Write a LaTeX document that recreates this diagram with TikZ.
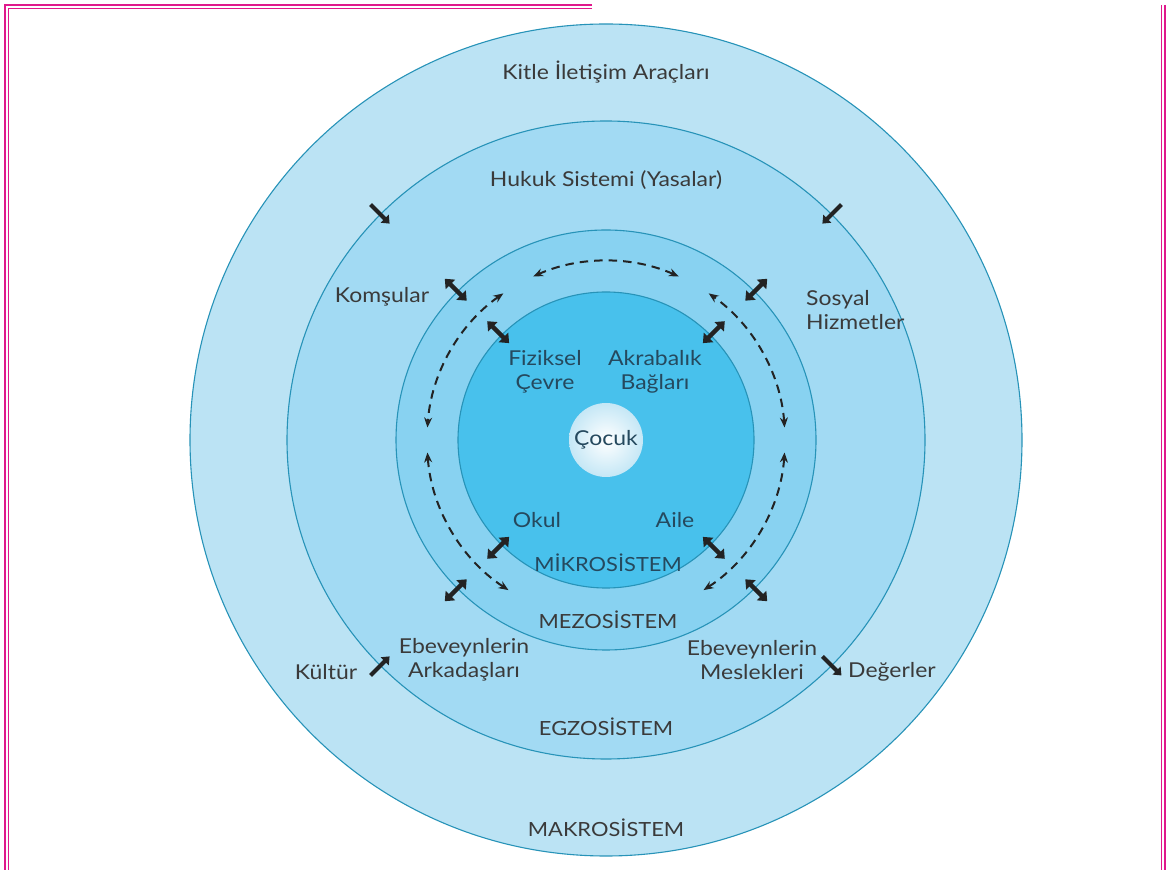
\documentclass[tikz,border=0pt]{standalone}
\usepackage{fontspec}
\setmainfont{Lato}[FakeStretch=1.12]
\usetikzlibrary{arrows.meta,calc}
\definecolor{ringA}{HTML}{BBE3F4}
\definecolor{ringB}{HTML}{A2DAF3}
\definecolor{ringC}{HTML}{88D2F1}
\definecolor{ringD}{HTML}{48C1EC}
\definecolor{edgec}{HTML}{2793B8}
\definecolor{magen}{HTML}{E0188C}
\definecolor{txtA}{HTML}{3A3A3A}
\definecolor{txtB}{HTML}{25495E}
\definecolor{arrc}{HTML}{232323}
\tikzset{
  lbl/.style={text=txtA, font=\fontsize{20.5}{24}\selectfont, align=center, inner sep=0pt},
  lblin/.style={lbl, text=txtB},
  caplbl/.style={lbl, font=\fontsize{19.5}{24}\selectfont},
  boldarr/.style={draw=arrc, line width=4.5pt, {Triangle[length=8pt,width=13pt]}-{Triangle[length=8pt,width=13pt]}},
  onearr/.style={draw=arrc, line width=4pt, -{Triangle[length=7pt,width=11pt]}},
  dasharc/.style={draw=arrc, line width=2pt, dash pattern=on 8.5pt off 6pt, {Stealth[length=10pt,width=8pt]}-{Stealth[length=10pt,width=8pt]}},
  ringedge/.style={draw=edgec, line width=1.1pt}
}
\begin{document}
\begin{tikzpicture}[x=1pt,y=1pt]
\useasboundingbox (0,0) rectangle (1169,870);
\fill[white] (0,0) rectangle (1169,870);
% magenta frame
\draw[magen, line width=2.6pt] (592,865) -- (5,865) -- (5,0);
\draw[magen, line width=1pt] (592,861.5) -- (8.6,861.5) -- (8.6,0);
\draw[magen, line width=2.6pt] (1165,865) -- (1165,0);
\draw[magen, line width=1pt] (1161.2,865) -- (1161.2,0);
% circles
\coordinate (C) at (606,430);
\fill[ringA] (C) circle[radius=416];
\draw[ringedge] (C) circle[radius=416];
\fill[ringB] (C) circle[radius=319];
\draw[ringedge] (C) circle[radius=319];
\fill[ringC] (C) circle[radius=210];
\draw[ringedge] (C) circle[radius=210];
\fill[ringD] (C) circle[radius=148];
\draw[ringedge] (C) circle[radius=148];
\shade[inner color=white, outer color=ringA!85!white] (C) circle[radius=37];
% dashed arcs
\foreach \nm/\a/\b in {top/66/114, lu/125/176, ll/184/237, ru/4/55, rl/303/356}{
  \coordinate (d\nm) at ($(C)+(\a:179)$);
  \draw[dasharc] (d\nm) arc[start angle=\a, end angle=\b, radius=179];
}
% bold double arrows on the mikro and mezo boundaries
\foreach \ang [count=\i] in {45,135,225,315}{
  \coordinate (mi\i a) at ($(C)+(\ang:137)$);
  \coordinate (mi\i b) at ($(C)+(\ang:168)$);
  \draw[boldarr] (mi\i a) -- (mi\i b);
  \coordinate (me\i a) at ($(C)+(\ang:197)$);
  \coordinate (me\i b) at ($(C)+(\ang:228)$);
  \draw[boldarr] (me\i a) -- (me\i b);
}
% single arrows on the egzo boundary
\foreach \ang/\ra/\rb [count=\i] in {45/333/306,135/333/306,225/333/306,315/306/333}{
  \coordinate (eg\i a) at ($(C)+(\ang:\ra)$);
  \coordinate (eg\i b) at ($(C)+(\ang:\rb)$);
  \draw[onearr] (eg\i a) -- (eg\i b);
}
% labels
\node[lbl] (kitle) at (606,798) {Kitle İletişim Araçları};
\node[lbl] (hukuk) at (606,690) {Hukuk Sistemi (Yasalar)};
\node[lbl] (komsu) at (382,573) {Komşular};
\node[lbl, align=left, anchor=west] (sosyal) at (806,560) {Sosyal\\Hizmetler};
\node[lblin] (fiz) at (545,498) {Fiziksel\\Çevre};
\node[lblin] (akr) at (655,498) {Akrabalık\\Bağları};
\node[lblin] (cocuk) at (606,430) {Çocuk};
\node[lblin] (okul) at (537,350) {Okul};
\node[lblin] (aile) at (675,350) {Aile};
\node[caplbl, text=txtB] (mikro) at (608,307) {MİKROSİSTEM};
\node[caplbl] (mezo) at (608,250) {MEZOSİSTEM};
\node[lbl] (ebark) at (464,210) {Ebeveynlerin\\Arkadaşları};
\node[lbl] (ebmes) at (752,210) {Ebeveynlerin\\Meslekleri};
\node[lbl] (kultur) at (326,198) {Kültür};
\node[lbl] (deger) at (892,198) {Değerler};
\node[caplbl] (egzo) at (606,143) {EGZOSİSTEM};
\node[caplbl] (makro) at (606,42) {MAKROSİSTEM};
\end{tikzpicture}
\end{document}
